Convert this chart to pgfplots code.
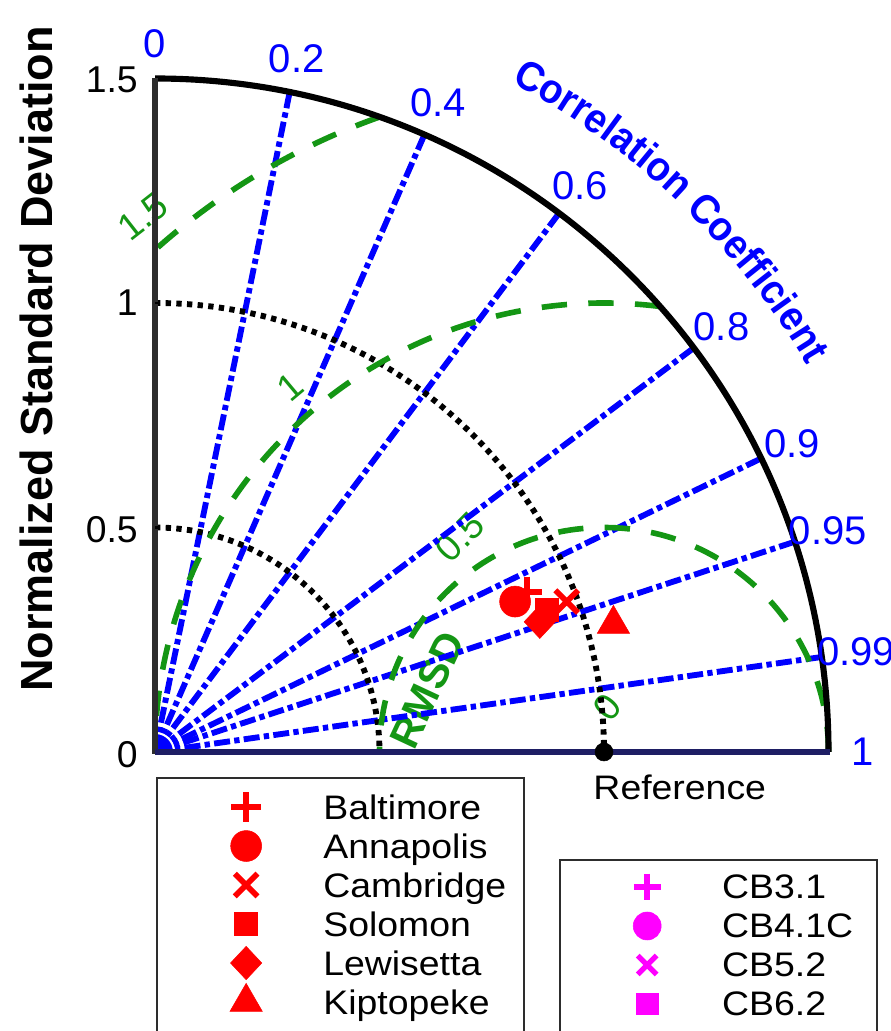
\documentclass[border=0pt]{standalone}
\usepackage{pgfplots}
\pgfplotsset{compat=1.18}
\usepackage{fontspec}
\setmainfont{Liberation Sans}
\newfontfamily\legfont{Liberation Sans}[FakeStretch=1.1]
\newfontfamily\arcfont{Liberation Sans}[FakeStretch=0.93]
\usetikzlibrary{decorations.text}

\definecolor{rmsdgreen}{RGB}{20,150,20}
\definecolor{axnavy}{RGB}{30,30,100}
\definecolor{axgray}{RGB}{45,45,45}
\definecolor{mag}{RGB}{255,0,255}

\tikzset{
  corr/.style={blue, line width=4.4bp, dash pattern=on 12bp off 3.2bp on 4bp off 3.2bp},
  stdarc/.style={black, line width=4.4bp, dash pattern=on 4bp off 4bp},
  rmsarc/.style={rmsdgreen, line width=4.2bp, dash pattern=on 19bp off 16bp},
  clab/.style={blue, inner sep=0pt, font=\fontsize{30bp}{32bp}\selectfont},
  glab/.style={rmsdgreen, inner sep=0pt, font=\fontsize{28bp}{30bp}\selectfont},
  ylab/.style={black, inner sep=0pt, anchor=east, font=\fontsize{28bp}{30bp}\selectfont},
}

\pgfplotsset{
  tayloraxis/.style={
    width=668.25bp, height=773.25bp, scale only axis,
    xmin=-0.345212, xmax=1.639198, ymin=-0.621381, ymax=1.674833,
    hide axis, clip=false,
    legend image code/.code={\draw[##1] plot coordinates {(0bp,9bp)};},
  },
  legstyle/.style={
    anchor=north west, draw=none, fill=none, inner sep=0pt, outer sep=0pt,
    row sep=0pt, column sep=45.75bp,
    font=\legfont\fontsize{25.5bp}{28bp}\selectfont,
    cells={anchor=base west},
    nodes={inner sep=0pt, text height=23.5bp, text depth=5.75bp},
  },
}

\begin{document}
\begin{tikzpicture}
\begin{axis}[tayloraxis, name=main,
  legend style={legstyle, at={(axis cs:0.1670,-0.0795)}},
]
% RMSD labels
\node[glab, rotate=38] at (axis cs:-0.027,1.192) {1.5};
\node[glab, rotate=40] at (axis cs:0.301,0.813) {1};
\node[glab, rotate=45] at (axis cs:0.679,0.479) {0.5};
\node[glab, rotate=50] at (axis cs:1.007,0.100) {0};
\node[glab, rotate=65, font=\fontsize{31bp}{33bp}\selectfont\bfseries] at (axis cs:0.606,0.138) {RMSD};

% correlation rays
\fill[blue] (axis cs:0,0) -- (axis cs:0.04,0) arc[start angle=0,end angle=90,radius=13.5bp] -- cycle;
\draw[corr] (axis cs:0,0) -- (axis cs:0.3,1.46969);
\draw[corr] (axis cs:0,0) -- (axis cs:0.6,1.37477);
\draw[corr] (axis cs:0,0) -- (axis cs:0.9,1.2);
\draw[corr] (axis cs:0,0) -- (axis cs:1.2,0.9);
\draw[corr] (axis cs:0,0) -- (axis cs:1.35,0.65383);
\draw[corr] (axis cs:0,0) -- (axis cs:1.425,0.46837);
\draw[corr] (axis cs:0,0) -- (axis cs:1.485,0.21160);

% std dev arcs
\draw[stdarc] (axis cs:0,0.5) arc[start angle=90,end angle=0,radius=168.375bp];
\draw[stdarc] (axis cs:0,1) arc[start angle=90,end angle=0,radius=336.75bp];

% RMSD arcs centred on the reference
\draw[rmsarc] (axis cs:1.5,0) arc[start angle=0,end angle=180,radius=168.375bp];
\draw[rmsarc] (axis cs:1.125,0.99216) arc[start angle=82.82,end angle=180,radius=336.75bp];
\draw[rmsarc] (axis cs:0.5,1.41421) arc[start angle=109.47,end angle=131.81,radius=505.125bp];

% frame
\draw[black, line width=4.6bp] (axis cs:0,1.5) arc[start angle=90,end angle=0,radius=505.125bp];
\draw[axgray, line width=4.6bp] (axis cs:0,-0.004) -- (axis cs:0,1.502);
\draw[axnavy, line width=4.6bp] (axis cs:0,0) -- (axis cs:1.503,0);
\draw[black, line width=2bp] (axis cs:0,0.5) -- (axis cs:0.012,0.5);
\draw[black, line width=2bp] (axis cs:0,1) -- (axis cs:0.012,1);

% y tick labels
\node[ylab] at (axis cs:-0.038,1.497) {1.5};
\node[ylab] at (axis cs:-0.038,1.0) {1};
\node[ylab] at (axis cs:-0.038,0.495) {0.5};
\node[ylab] at (axis cs:-0.038,-0.005) {0};
\node[rotate=90, inner sep=0pt, font=\fontsize{33.75bp}{36bp}\selectfont\bfseries] at (axis cs:-0.265,0.8753) {Normalized Standard Deviation};

% correlation labels
\node[clab] at (axis cs:0,1.577) {0};
\node[clab] at (axis cs:0.3154,1.5451) {0.2};
\node[clab] at (axis cs:0.6308,1.4453) {0.4};
\node[clab] at (axis cs:0.9462,1.2616) {0.6};
\node[clab] at (axis cs:1.2616,0.9462) {0.8};
\node[clab] at (axis cs:1.4193,0.6874) {0.9};
\node[clab] at (axis cs:1.4982,0.4924) {0.95};
\node[clab] at (axis cs:1.5612,0.2225) {0.99};
\node[clab] at (axis cs:1.577,0) {1};
\path[decorate, decoration={text along path, text align=center,
  text={|\arcfont\fontsize{31bp}{33bp}\selectfont\bfseries\color{blue}|Correlation Coefficient}}]
  (axis cs:0.6873,1.5437) arc[start angle=66,end angle=26.6,radius=568bp];

% reference
\node[anchor=west, inner sep=0pt, font=\legfont\fontsize{25.5bp}{28bp}\selectfont] at (axis cs:0.976,-0.078) {Reference};

% legend box
\draw[axgray, line width=1.5bp] (axis cs:0.00445,-0.0579) rectangle (axis cs:0.8218,-0.6526);

% data
\addplot[only marks, mark=*, black, mark size=6.75bp, forget plot] coordinates {(1,0)};
\addplot[only marks, mark=+, red, mark size=11.25bp, line width=4.5bp] coordinates {(0.828,0.357)};
\addlegendentry{Baltimore}
\addplot[only marks, mark=*, red, mark size=11.6bp] coordinates {(0.802,0.335)};
\addlegendentry{Annapolis}
\addplot[only marks, mark=x, red, mark size=12bp, line width=4.2bp] coordinates {(0.917,0.335)};
\addlegendentry{Cambridge}
\addplot[only marks, mark=square*, red, mark size=8.6bp] coordinates {(0.872,0.316)};
\addlegendentry{Solomon}
\addplot[only marks, mark=diamond*, red, mark size=12.5bp, mark options={xscale=1.25}] coordinates {(0.857,0.290)};
\addlegendentry{Lewisetta}
\addplot[only marks, mark=triangle*, red, mark size=14bp] coordinates {(1.021,0.285)};
\addlegendentry{Kiptopeke}
\end{axis}

\begin{axis}[tayloraxis,
  legend style={legstyle, at={(axis cs:1.0650,-0.2576)}},
]
\draw[axgray, line width=1.5bp] (axis cs:0.9020,-0.2405) rectangle (axis cs:1.6080,-0.6526);
\addlegendimage{only marks, mark=+, mag, mark size=10bp, line width=4.5bp}
\addlegendentry{CB3.1}
\addlegendimage{only marks, mark=*, mag, mark size=10.5bp}
\addlegendentry{CB4.1C}
\addlegendimage{only marks, mark=x, mag, mark size=10bp, line width=4bp}
\addlegendentry{CB5.2}
\addlegendimage{only marks, mark=square*, mag, mark size=8bp}
\addlegendentry{CB6.2}
\end{axis}

\pgfresetboundingbox
\path[use as bounding box] (main.south west) rectangle (main.north east);
\end{tikzpicture}
\end{document}
